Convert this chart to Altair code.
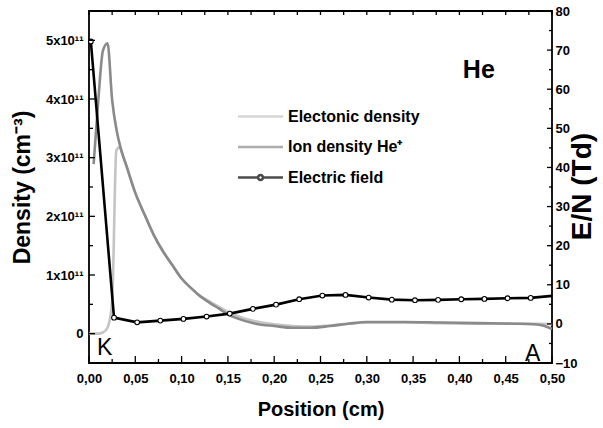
import altair as alt
import pandas as pd

# Densities in units of 1e11 cm^-3 along the gap (cm)
elec_pos = [0.000, 0.005, 0.010, 0.015, 0.020, 0.025, 0.0295, 0.033, 0.036, 0.040,
            0.050, 0.060, 0.070, 0.080, 0.090, 0.100, 0.110, 0.120, 0.130, 0.140,
            0.150, 0.160, 0.180, 0.200, 0.220, 0.240, 0.260, 0.280, 0.300, 0.340,
            0.380, 0.420, 0.460, 0.480, 0.490, 0.500]
elec_val = [0.00, 0.00, 0.00, 0.02, 0.10, 0.55, 3.12, 3.18, 3.06, 2.88,
            2.40, 2.03, 1.68, 1.40, 1.17, 0.94, 0.78, 0.64, 0.55, 0.46,
            0.37, 0.30, 0.21, 0.16, 0.13, 0.12, 0.14, 0.17, 0.19, 0.19,
            0.18, 0.17, 0.17, 0.17, 0.17, 0.16]

ion_pos = [0.005, 0.010, 0.015, 0.020, 0.025, 0.030, 0.035, 0.040, 0.050, 0.060,
           0.070, 0.080, 0.090, 0.100, 0.110, 0.120, 0.130, 0.140, 0.150, 0.160,
           0.180, 0.200, 0.220, 0.240, 0.260, 0.280, 0.300, 0.340, 0.380, 0.420,
           0.460, 0.480, 0.490, 0.500]
ion_val = [2.89, 3.97, 4.82, 4.95, 3.98, 3.45, 3.12, 2.88, 2.40, 2.03,
           1.68, 1.40, 1.17, 0.94, 0.78, 0.64, 0.53, 0.43, 0.33, 0.26,
           0.17, 0.13, 0.10, 0.10, 0.13, 0.17, 0.20, 0.20, 0.19, 0.18,
           0.17, 0.16, 0.14, 0.08]

# Reduced electric field E/N (Td)
field_pos = [0.002, 0.027, 0.052, 0.077, 0.102, 0.127, 0.152, 0.177, 0.202, 0.227,
             0.252, 0.277, 0.302, 0.327, 0.352, 0.377, 0.402, 0.427, 0.452, 0.477,
             0.500]
field_val = [72.2, 1.6, 0.4, 0.84, 1.28, 1.87, 2.63, 3.84, 4.93, 6.31,
             7.24, 7.41, 6.73, 6.20, 6.05, 6.14, 6.30, 6.39, 6.56, 6.65,
             7.16]

series_names = ["Electonic density", "Ion density He\u207a", "Electric field"]
series_colors = ["#c4c4c4", "#8a8a8a", "#000000"]

notes_text = ["K", "A"]
notes_pos = [0.017, 0.479]
notes_val = [-0.37, -0.46]

gas_text = ["He"]
gas_pos = [0.421]
gas_val = [4.35]

# axis tick values
x_major = [0.00, 0.05, 0.10, 0.15, 0.20, 0.25, 0.30, 0.35, 0.40, 0.45, 0.50]
x_minor = [0.025, 0.075, 0.125, 0.175, 0.225, 0.275, 0.325, 0.375, 0.425, 0.475]
d_major = [0, 1, 2, 3, 4, 5]
d_minor = [-0.5, 0.5, 1.5, 2.5, 3.5, 4.5, 5.5]
f_major = [-10, 0, 10, 20, 30, 40, 50, 60, 70, 80]
f_minor = [-5, 5, 15, 25, 35, 45, 55, 65, 75]

# frame edges in data units
X_LO, X_HI = 0.0, 0.5
D_LO, D_HI = -0.5, 5.5
F_LO, F_HI = -10, 80

FONT = "Liberation Sans, Arial"
W, H = 463, 352

elec = pd.DataFrame({"pos": elec_pos, "val": elec_val})
ion = pd.DataFrame({"pos": ion_pos, "val": ion_val})
field = pd.DataFrame({"pos": field_pos, "val": field_val})
notes = pd.DataFrame({"pos": notes_pos, "val": notes_val, "t": notes_text})
gas = pd.DataFrame({"pos": gas_pos, "val": gas_val, "t": gas_text})
legend_df = pd.DataFrame({"series": series_names})

x_dom = alt.Scale(domain=[X_LO, X_HI], nice=False, zero=False)
d_dom = alt.Scale(domain=[D_LO, D_HI], nice=False, zero=False)
f_dom = alt.Scale(domain=[F_LO, F_HI], nice=False, zero=False)


def X(axis, field="pos"):
    return alt.X(f"{field}:Q", scale=x_dom, axis=axis)


def YD(axis, field="val"):
    return alt.Y(f"{field}:Q", scale=d_dom, axis=axis)


def YF(axis, field="val"):
    return alt.Y(f"{field}:Q", scale=f_dom, axis=axis)


# tick glyphs: a stroke from the anchor point pointing into the plot
UP, DOWN, RIGHT, LEFT = "M0,0L0,-2", "M0,0L0,2", "M0,0L2,0", "M0,0L-2,0"


def edge_ticks(xs, ys, glyph, length, yenc):
    df = pd.DataFrame({"tx": xs, "ty": ys})
    return alt.Chart(df).mark_point(
        shape=glyph, size=length ** 2, filled=False, color="#000",
        strokeWidth=1.3, opacity=1).encode(x=X(None, "tx"), y=yenc(None, "ty"))


frame_ticks = [
    edge_ticks(x_major, [D_LO] * len(x_major), UP, 7, YD),
    edge_ticks(x_minor, [D_LO] * len(x_minor), UP, 4, YD),
    edge_ticks(x_major + x_minor, [D_HI] * (len(x_major) + len(x_minor)), DOWN, 4, YD),
    edge_ticks([X_LO] * len(d_major), d_major, RIGHT, 6, YD),
    edge_ticks([X_LO] * len(d_minor), d_minor, RIGHT, 4, YD),
    edge_ticks([X_HI] * len(f_major), f_major, LEFT, 5, YF),
    edge_ticks([X_HI] * len(f_minor), f_minor, LEFT, 3, YF),
]

x_lab = alt.Axis(orient="bottom", values=x_major, ticks=False, tickSize=0, labelPadding=9,
                 labelFlush=False, title="Position (cm)", titleFontSize=20,
                 titlePadding=14,
                 labelExpr="replace(format(datum.value, '.2f'), '.', ',')")
yl_lab = alt.Axis(orient="left", values=d_major, ticks=False, tickSize=0,
                  labelPadding=6, labelFlush=False, title="Density (cm\u207b\u00b3)",
                  titleFontSize=23, titlePadding=11,
                  labelExpr="datum.value == 0 ? '0' : datum.value + 'x10\u00b9\u00b9'")
yr_lab = alt.Axis(orient="right", values=f_major, ticks=False, tickSize=0,
                  labelPadding=3, labelFlush=False, title="E/N (Td)", titleFontSize=28,
                  titleAngle=270, titleX=30, titleY=175, titleAlign="center",
                  titleBaseline="middle")

elec_line = alt.Chart(elec).mark_line(color=series_colors[0], strokeWidth=2.6,
                                      interpolate="monotone").encode(
    x=X(x_lab), y=YD(yl_lab))
ion_line = alt.Chart(ion).mark_line(color=series_colors[1], strokeWidth=2.6,
                                    interpolate="monotone").encode(
    x=X(None), y=YD(None))
field_line = alt.Chart(field).mark_line(color=series_colors[2], strokeWidth=2.6).encode(
    x=X(None), y=YF(yr_lab))
field_pts = alt.Chart(field).transform_filter("datum.pos < 0.49").mark_point(
    shape="circle", filled=True, fill="white", stroke="black", strokeWidth=1.1,
    size=22, opacity=1).encode(x=X(None), y=YF(None))

notes_layer = alt.Chart(notes).mark_text(font="Liberation Sans", fontSize=23,
                                          baseline="alphabetic", align="center",
                                          color="#000").encode(
    x=X(None), y=YD(None), text="t:N")
gas_layer = alt.Chart(gas).mark_text(font=FONT, fontSize=25, fontWeight="bold",
                                     baseline="alphabetic", align="center",
                                     color="#000").encode(
    x=X(None), y=YD(None), text="t:N")

# legend symbols: plain strokes, and a stroke broken by an open circle
line_sym = "M-2,0L2,0"
field_sym = ("M-2,0L-0.22,0M0.22,0L2,0M0.22,0"
             "A0.22,0.22,0,1,1,-0.22,0A0.22,0.22,0,1,1,0.22,0")

legend_layer = alt.Chart(legend_df).transform_filter("false").mark_point(
    filled=False, strokeWidth=2.5).encode(
    color=alt.Color("series:N", scale=alt.Scale(domain=series_names, range=series_colors),
                    legend=alt.Legend(orient="none", legendX=159, legendY=93, title=None,
                                      symbolSize=506, symbolStrokeWidth=2.5,
                                      labelFont=FONT, labelFontSize=16,
                                      labelFontWeight="bold", labelColor="#000",
                                      labelOffset=15, rowPadding=9.5)),
    shape=alt.Shape("series:N", scale=alt.Scale(domain=series_names,
                                                range=[line_sym, line_sym, field_sym])),
)

chart = alt.layer(
    elec_line, ion_line, field_line, field_pts, *frame_ticks,
    notes_layer, gas_layer, legend_layer
).resolve_scale(
    x="independent", y="independent", color="independent", shape="independent"
).properties(
    width=W, height=H, autosize=alt.AutoSizeParams(type="none"),
    padding={"left": 89, "top": 11, "right": 603 - 89 - W, "bottom": 428 - 11 - H},
    background="white"
).configure_view(
    stroke="#000", strokeWidth=1.8
).configure_axis(
    grid=False, domain=False, labelFont=FONT, labelFontWeight="bold", labelFontSize=13,
    labelColor="#000", titleFont=FONT, titleFontWeight="bold", titleColor="#000",
    tickColor="#000"
)

chart.save("out.html", embed_options={"renderer": "svg", "actions": False})
